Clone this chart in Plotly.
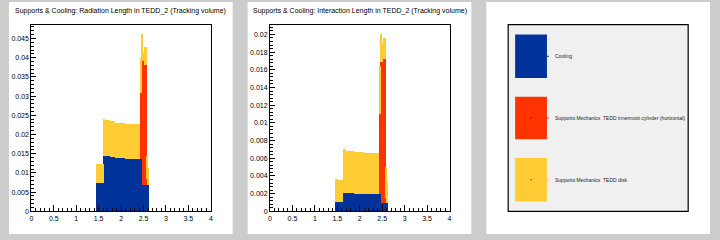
import plotly.graph_objects as go

# ---------------- data ----------------
# Radiation length panel: bin edges (eta) and per-series contributions
edges_rad = [1.45, 1.62, 1.66, 1.75, 1.87, 2.10, 2.44, 2.47, 2.49, 2.51, 2.575, 2.60, 2.62]
cooling_rad = [0.0074, 0.0144, 0.0144, 0.0142, 0.0139, 0.0137, 0.0137, 0.0137, 0.0070, 0.0070, 0.0070, 0.0070]
cylinder_rad = [0.0, 0.0, 0.0, 0.0, 0.0, 0.0, 0.0171, 0.0255, 0.0322, 0.0312, 0.0015, 0.0]
disk_rad = [0.0050, 0.0097, 0.0094, 0.0093, 0.0093, 0.0092, 0.0093, 0.0071, 0.0024, 0.0047, 0.0061, 0.0043]

# Interaction length panel
edges_int = [1.45, 1.52, 1.62, 1.70, 1.75, 1.87, 2.10, 2.44, 2.47, 2.49, 2.52, 2.575, 2.60, 2.62]
cooling_int = [0.00112, 0.00112, 0.00212, 0.00212, 0.00212, 0.00201, 0.00201, 0.0020, 0.0020, 0.0010, 0.0010, 0.0010, 0.0010]
cylinder_int = [0.0, 0.0, 0.0, 0.0, 0.0, 0.0, 0.0, 0.0090, 0.0149, 0.0159, 0.0163, 0.0005, 0.0]
disk_int = [0.00258, 0.00248, 0.00492, 0.00478, 0.00471, 0.00471, 0.00464, 0.0055, 0.0032, 0.0022, 0.0023, 0.0035, 0.0024]

series_names = ["Cooling",
                "Supports:Mechanics  TEDD innermost cylinder (horizontal)",
                "Supports:Mechanics  TEDD disk"]
series_colors = ["#003399", "#ff3300", "#ffcc33"]

titles = ["Supports & Cooling: Radiation Length in TEDD_2 (Tracking volume)",
          "Supports & Cooling: Interaction Length in TEDD_2 (Tracking volume)"]

FONT = "Liberation Sans, Arial, Helvetica, sans-serif"
W, H = 720, 240


def px(x):
    return x / W


def py(y):
    return 1 - y / H


fig = go.Figure()


def add_stack(edges, vals_list, xa, ya):
    centers = [(edges[i] + edges[i + 1]) / 2 for i in range(len(edges) - 1)]
    widths = [edges[i + 1] - edges[i] for i in range(len(edges) - 1)]
    for name, vals, col in zip(series_names, vals_list, series_colors):
        fig.add_trace(go.Bar(x=centers, y=vals, width=widths, name=name,
                             marker=dict(color=col, line=dict(width=0)),
                             xaxis=xa, yaxis=ya, showlegend=False,
                             hoverinfo="skip"))


add_stack(edges_rad, [cooling_rad, cylinder_rad, disk_rad], "x", "y")
add_stack(edges_int, [cooling_int, cylinder_int, disk_int], "x2", "y2")

ydom = [py(214), py(25)]


def xaxis_cfg(x0, x1, anchor):
    return dict(domain=[px(x0), px(x1)], anchor=anchor, range=[0, 4],
                tick0=0, dtick=0.5, ticks="inside", ticklen=6, tickwidth=1,
                tickcolor="black", showgrid=False, zeroline=False,
                showline=True, mirror=True, linecolor="black", linewidth=1,
                tickfont=dict(size=7, color="black", family=FONT),
                minor=dict(dtick=0.1, ticks="inside", ticklen=3,
                           tickcolor="black", showgrid=False),
                fixedrange=True)


def yaxis_cfg(anchor, ymax, dt, mdt):
    return dict(domain=ydom, anchor=anchor, range=[0, ymax],
                tick0=0, dtick=dt, ticks="inside", ticklen=5, tickwidth=1,
                tickcolor="black", showgrid=False, zeroline=False,
                showline=True, mirror=True, linecolor="black", linewidth=1,
                tickfont=dict(size=7, color="black", family=FONT),
                minor=dict(dtick=mdt, ticks="inside", ticklen=2.5,
                           tickcolor="black", showgrid=False),
                fixedrange=True)


shapes = []
# pads
for x0 in (7, 247, 487):
    shapes.append(dict(type="rect", xref="paper", yref="paper",
                       x0=px(x0), x1=px(x0 + 225), y0=py(237), y1=py(2),
                       fillcolor="white", line=dict(width=0), layer="below"))

# legend box
shapes.append(dict(type="rect", xref="paper", yref="paper",
                   x0=px(509), x1=px(690), y0=py(214), y1=py(25),
                   fillcolor="#f0f0f0", line=dict(color="black", width=1.2)))

annotations = []
legend_rows = [(35, 79), (98, 141), (160, 204)]
for (y0, y1), name, col in zip(legend_rows, series_names, series_colors):
    shapes.append(dict(type="rect", xref="paper", yref="paper",
                       x0=px(516), x1=px(548), y0=py(y1), y1=py(y0),
                       fillcolor=col, line=dict(width=0)))
    yc = (y0 + y1) / 2
    shapes.append(dict(type="rect", xref="paper", yref="paper",
                       x0=px(531.5), x1=px(532.5), y0=py(yc + 0.5), y1=py(yc - 0.5),
                       fillcolor="black", line=dict(width=0)))
    shapes.append(dict(type="line", xref="paper", yref="paper",
                       x0=px(548), x1=px(550), y0=py(yc), y1=py(yc),
                       line=dict(color=col, width=1)))
    annotations.append(dict(text=name, xref="paper", yref="paper",
                            x=px(554), y=py(yc), xanchor="left", yanchor="middle",
                            showarrow=False,
                            font=dict(size=5, color="#222222", family=FONT)))

for cx, t in zip((119.5, 359.5), titles):
    annotations.append(dict(text=t, xref="paper", yref="paper",
                            x=px(cx), y=py(11), xanchor="center", yanchor="middle",
                            showarrow=False,
                            font=dict(size=7, color="black", family=FONT)))

fig.update_layout(
    width=W, height=H, margin=dict(l=0, r=0, t=0, b=0),
    paper_bgcolor="#cccccc", plot_bgcolor="white",
    barmode="stack", bargap=0, showlegend=False,
    font=dict(family=FONT),
    xaxis=xaxis_cfg(29.5, 210, "y"),
    yaxis=yaxis_cfg("x", 0.0486, 0.005, 0.001),
    xaxis2=xaxis_cfg(269.5, 450, "y2"),
    yaxis2=yaxis_cfg("x2", 0.0211, 0.002, 0.0004),
    shapes=shapes, annotations=annotations,
)

fig.write_html("out.html", config={"displayModeBar": False})
